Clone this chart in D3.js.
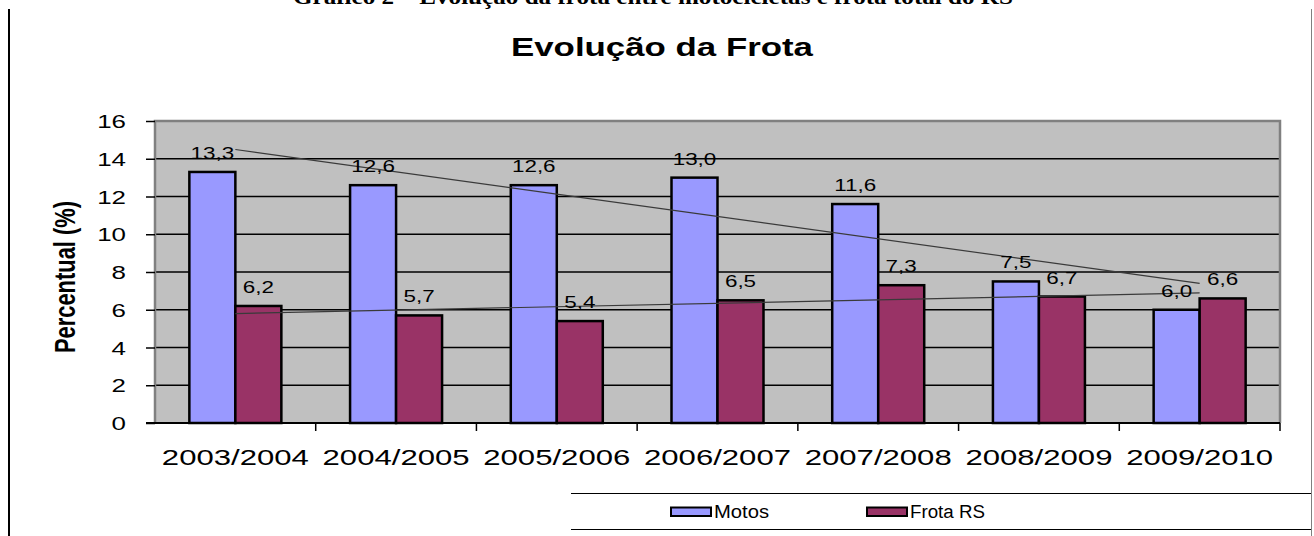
<!DOCTYPE html>
<html>
<head>
<meta charset="utf-8">
<script src="https://cdn.jsdelivr.net/npm/d3@7"></script>
<style>
  html, body { margin: 0; padding: 0; background: #fff; }
  svg { display: block; }
  text { font-family: "Liberation Sans", Arial, sans-serif; fill: #000; }
</style>
</head>
<body>
<div id="chart"></div>
<script>
// ---- data ----
const categories = ["2003/2004", "2004/2005", "2005/2006", "2006/2007", "2007/2008", "2008/2009", "2009/2010"];
const seriesNames = ["Motos", "Frota RS"];
const motos = [13.3, 12.6, 12.6, 13.0, 11.6, 7.5, 6.0];
const frotaRS = [6.2, 5.7, 5.4, 6.5, 7.3, 6.7, 6.6];
const yTicks = [0, 2, 4, 6, 8, 10, 12, 14, 16];
const caption = "Gráfico 2 – Evolução da frota entre motocicletas e frota total do RS";
const title = "Evolução da Frota";
const yTitle = "Percentual (%)";

// ---- layout ----
const W = 1314, H = 536;
const plot = { left: 155, right: 1280, top: 121, bottom: 423 };
const colors = { "Motos": "#9999FF", "Frota RS": "#993366" };
const STRETCH = 1.4;

const svg = d3.select("#chart").append("svg").attr("width", W).attr("height", H);
svg.append("rect").attr("width", W).attr("height", H).attr("fill", "#fff");

// horizontally stretched text helper
function fit(t, cx, anchor, target) {
  const n = t.node().getComputedTextLength();
  const tw = target != null ? target : n * STRETCH;
  t.attr("text-anchor", "start").attr("textLength", tw).attr("lengthAdjust", "spacingAndGlyphs");
  let x0 = cx;
  if (anchor === "middle") x0 = cx - tw / 2;
  else if (anchor === "end") x0 = cx - tw;
  t.attr("x", x0);
  return t;
}

// page frame lines
svg.append("line").attr("x1", 9).attr("x2", 9).attr("y1", 9).attr("y2", H)
  .attr("stroke", "#000").attr("stroke-width", 2);
svg.append("line").attr("x1", 1311.5).attr("x2", 1311.5).attr("y1", 9).attr("y2", H)
  .attr("stroke", "#808080").attr("stroke-width", 1);

// caption (cut at top, as in the source)
const cap = svg.append("text").attr("y", 4).style("font-family", "'Liberation Serif', 'Times New Roman', serif")
  .style("font-weight", "bold").style("font-size", "20px").text(caption);
fit(cap, 293, "start", 720);

// title
const tt = svg.append("text").attr("y", 56).style("font-size", "26px").style("font-weight", "bold").text(title);
fit(tt, 662, "middle", 302);

// scales
const x = d3.scaleBand().domain(categories).range([plot.left, plot.right]).padding(0);
const bw = x.bandwidth();
const xs = d3.scaleBand().domain(seriesNames).range([bw / 2 - 46, bw / 2 + 46]).padding(0);
const y = d3.scaleLinear().domain([0, 16]).range([plot.bottom, plot.top]);

// plot background
svg.append("rect").attr("x", plot.left).attr("y", plot.top)
  .attr("width", plot.right - plot.left).attr("height", plot.bottom - plot.top)
  .attr("fill", "#C0C0C0");

// gridlines
svg.append("g").selectAll("line").data(yTicks.filter(v => v > 0 && v < 16)).join("line")
  .attr("x1", plot.left).attr("x2", plot.right)
  .attr("y1", d => y(d)).attr("y2", d => y(d))
  .attr("stroke", "#000").attr("stroke-width", 1.4);

// plot border (gray)
svg.append("path")
  .attr("d", `M${plot.left},${plot.bottom}V${plot.top}H${plot.right}V${plot.bottom}`)
  .attr("fill", "none").attr("stroke", "#808080").attr("stroke-width", 2.5);

// y axis
const yAxis = svg.append("g").attr("transform", `translate(${plot.left},0)`)
  .call(d3.axisLeft(y).tickValues(yTicks).tickSize(9).tickPadding(20).tickFormat(d3.format("d")));
yAxis.select(".domain").remove();
yAxis.selectAll(".tick line").attr("stroke", "#000").attr("stroke-width", 1.5);
yAxis.selectAll(".tick text").style("font-size", "18.5px").attr("dy", "0.36em").each(function () {
  fit(d3.select(this), -29, "end", null);
});

// bars
const series = [
  { name: "Motos", values: motos },
  { name: "Frota RS", values: frotaRS }
];
const gBars = svg.append("g");
series.forEach(s => {
  gBars.append("g").selectAll("rect").data(s.values).join("rect")
    .attr("x", (d, i) => x(categories[i]) + xs(s.name))
    .attr("y", d => y(d))
    .attr("width", xs.bandwidth())
    .attr("height", d => y(0) - y(d))
    .attr("fill", colors[s.name])
    .attr("stroke", "#000").attr("stroke-width", 2.5);
});

// x axis line and ticks at band boundaries
svg.append("line").attr("x1", 146).attr("x2", plot.right).attr("y1", plot.bottom).attr("y2", plot.bottom)
  .attr("stroke", "#000").attr("stroke-width", 2);
svg.append("g").selectAll("line").data(categories).join("line")
  .attr("x1", d => x(d) + bw).attr("x2", d => x(d) + bw)
  .attr("y1", plot.bottom).attr("y2", plot.bottom + 8)
  .attr("stroke", "#000").attr("stroke-width", 1.5);

// x labels
const xAxis = svg.append("g").attr("transform", `translate(0,${plot.bottom})`)
  .call(d3.axisBottom(x).tickSize(0).tickPadding(0));
xAxis.select(".domain").remove();
xAxis.selectAll(".tick text").style("font-size", "22px").attr("y", 42).attr("dy", null).each(function () {
  fit(d3.select(this), 0, "middle", 147);
});

// linear trend lines (least squares from data)
function trend(vals) {
  const n = vals.length;
  const xsv = vals.map((_, i) => i + 1);
  const mx = d3.mean(xsv), my = d3.mean(vals);
  const sxy = d3.sum(vals, (v, i) => (xsv[i] - mx) * (v - my));
  const sxx = d3.sum(xsv, v => (v - mx) * (v - mx));
  const b = sxy / sxx, a = my - b * mx;
  return [1, n].map(k => ({ cat: categories[k - 1], v: a + b * k }));
}
const line = d3.line().x(d => x(d.cat) + bw / 2).y(d => y(d.v));
series.forEach(s => {
  svg.append("path").datum(trend(s.values)).attr("d", line)
    .attr("fill", "none").attr("stroke", "#3a3a3a").attr("stroke-width", 1.2);
});

// data labels
const fmt = v => d3.format(".1f")(v).replace(".", ",");
series.forEach(s => {
  svg.append("g").selectAll("text").data(s.values).join("text")
    .attr("y", d => y(d) - 13)
    .style("font-size", "16px")
    .text(d => fmt(d))
    .each(function (d, i) {
      fit(d3.select(this), x(categories[i]) + xs(s.name) + xs.bandwidth() / 2, "middle", null);
    });
});

// y axis title (rotated, stretched horizontally)
const yt = svg.append("g").attr("transform", "translate(75,277) scale(1.4,1) rotate(-90)")
  .append("text").attr("y", 0).style("font-size", "21px").style("font-weight", "bold").text(yTitle);
yt.attr("text-anchor", "start").attr("x", -76).attr("textLength", 152).attr("lengthAdjust", "spacingAndGlyphs");

// legend box (top & bottom rules)
svg.append("line").attr("x1", 571).attr("x2", 1311).attr("y1", 493.5).attr("y2", 493.5)
  .attr("stroke", "#000").attr("stroke-width", 1.2);
svg.append("line").attr("x1", 571).attr("x2", 1311).attr("y1", 529.5).attr("y2", 529.5)
  .attr("stroke", "#000").attr("stroke-width", 1.2);
const legendX = d3.scaleOrdinal().domain(seriesNames).range([671, 867]);
const legendW = d3.scaleOrdinal().domain(seriesNames).range([55, 75]);
const lg = svg.append("g").selectAll("g").data(seriesNames).join("g");
lg.append("rect").attr("x", d => legendX(d)).attr("y", 507.5).attr("width", 40).attr("height", 8.5)
  .attr("fill", d => colors[d]).attr("stroke", "#000").attr("stroke-width", 2);
lg.append("text").attr("y", 518).style("font-size", "18px").text(d => d)
  .each(function (d) { fit(d3.select(this), legendX(d) + 43, "start", legendW(d)); });
</script>
</body>
</html>
